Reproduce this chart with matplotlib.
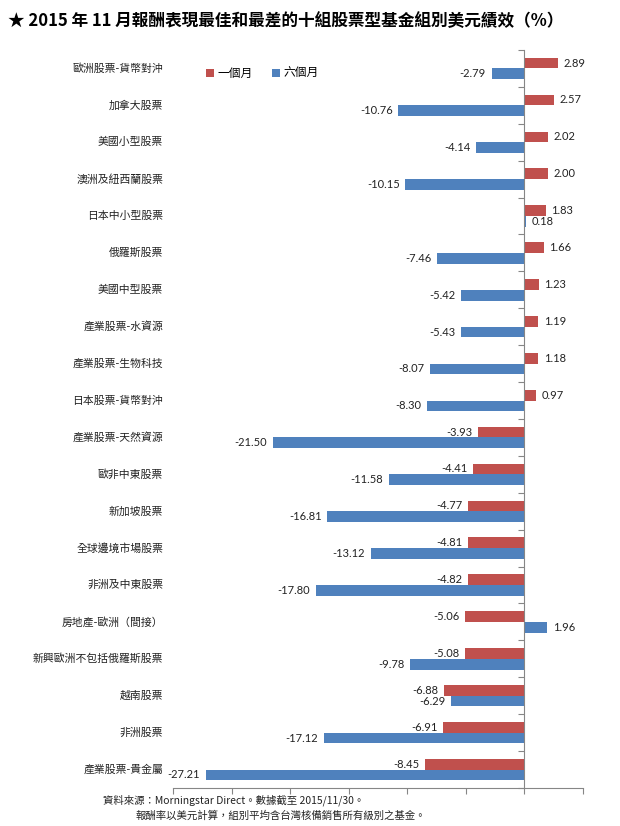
import numpy as np
import matplotlib
matplotlib.use("Agg")
import matplotlib.pyplot as plt
from matplotlib.transforms import blended_transform_factory

plt.rcParams['font.family'] = ['Noto Sans CJK TC', 'DejaVu Sans']

categories = [
    "歐洲股票-貨幣對沖", "加拿大股票", "美國小型股票", "澳洲及紐西蘭股票",
    "日本中小型股票", "俄羅斯股票", "美國中型股票", "產業股票-水資源",
    "產業股票-生物科技", "日本股票-貨幣對沖", "產業股票-天然資源", "歐非中東股票",
    "新加坡股票", "全球邊境市場股票", "非洲及中東股票", "房地產-歐洲（間接）",
    "新興歐洲不包括俄羅斯股票", "越南股票", "非洲股票", "產業股票-貴金屬",
]
one_month = [2.89, 2.57, 2.02, 2.00, 1.83, 1.66, 1.23, 1.19, 1.18, 0.97,
             -3.93, -4.41, -4.77, -4.81, -4.82, -5.06, -5.08, -6.88, -6.91, -8.45]
six_month = [-2.79, -10.76, -4.14, -10.15, 0.18, -7.46, -5.42, -5.43, -8.07, -8.30,
             -21.50, -11.58, -16.81, -13.12, -17.80, 1.96, -9.78, -6.29, -17.12, -27.21]
series_names = ["一個月", "六個月"]

red = "#C0504D"
blue = "#4F81BD"
axis_gray = "#868686"

fig = plt.figure(figsize=(6.2, 8.26), dpi=100)
ax = fig.add_axes([0.279, 0.046, 0.661, 0.8935])

y = np.arange(len(categories))
h = 0.29
bars1 = ax.barh(y - h / 2, one_month, height=h, color=red, label=series_names[0])
bars2 = ax.barh(y + h / 2, six_month, height=h, color=blue, label=series_names[1])

ax.set_xlim(-30, 5)
ax.set_ylim(len(categories) - 0.5, -0.5)

# data labels
for bars, vals in ((bars1, one_month), (bars2, six_month)):
    for b, v in zip(bars, vals):
        yc = b.get_y() + b.get_height() / 2
        off = 4 if v >= 0 else -4
        ax.annotate(f"{v:.2f}", (v, yc), xytext=(off, 0), textcoords="offset points",
                    ha="left" if v >= 0 else "right", va="center",
                    fontsize=8, family="Lato", color="#222222")

# zero axis with category-boundary ticks
for s in ("top", "right"):
    ax.spines[s].set_visible(False)
ax.spines['left'].set_position(('data', 0))
ax.spines['left'].set_color(axis_gray)
ax.spines['bottom'].set_color(axis_gray)
ax.set_yticks(np.arange(len(categories) + 1) - 0.5)
ax.set_yticklabels([])
ax.set_xticks(np.arange(-30, 6, 5))
ax.set_xticklabels([])
ax.tick_params(axis='both', direction='out', length=4, color=axis_gray, width=0.8)

trans = blended_transform_factory(ax.transAxes, ax.transData)
for yi, name in zip(y, categories):
    ax.text(-0.024, yi, name, transform=trans, ha="right", va="center",
            fontsize=7.8, color="#222222")

ax.legend(loc="upper left", bbox_to_anchor=(0.315, 0.932), bbox_transform=fig.transFigure,
          ncol=2, frameon=False, fontsize=8.5, handlelength=0.7, handleheight=0.7,
          handletextpad=0.3, columnspacing=1.6)

fig.text(0.013, 0.975, "★ 2015 年 11 月報酬表現最佳和最差的十組股票型基金組別美元績效（%）",
         fontsize=12, fontweight="bold", ha="left", va="center")

fig.text(0.166, 0.031, "資料來源：Morningstar Direct。數據截至 2015/11/30。",
         fontsize=7.5, ha="left", va="center", color="#222222")
fig.text(0.218, 0.013, "報酬率以美元計算，組別平均含台灣核備銷售所有級別之基金。",
         fontsize=7.5, ha="left", va="center", color="#222222")

fig.savefig("out.png", dpi=100)
